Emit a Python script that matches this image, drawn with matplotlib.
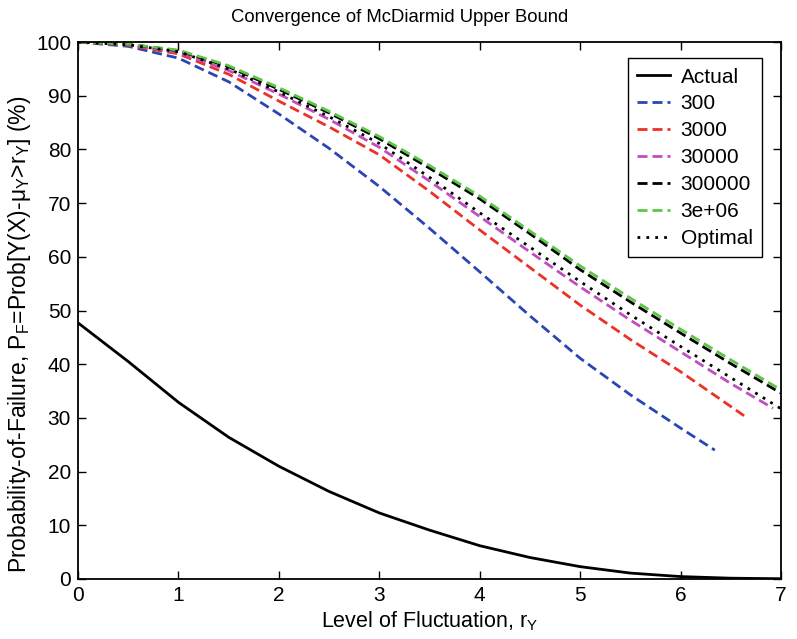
import matplotlib
matplotlib.use("Agg")
import matplotlib.pyplot as plt

plt.rcParams["font.family"] = ["Liberation Sans", "DejaVu Sans"]
plt.rcParams["mathtext.default"] = "regular"

# Level of fluctuation r_Y
x_full = [0, 0.5, 1, 1.5, 2, 2.5, 3, 3.5, 4, 4.5, 5, 5.5, 6, 6.5, 7]

actual = [47.7, 40.5, 32.9, 26.4, 21.0, 16.3, 12.3, 9.1, 6.2, 4.0, 2.3, 1.1, 0.45, 0.15, 0.05]

x_300 = [0, 0.5, 1, 1.5, 2, 2.5, 3, 3.5, 4, 4.5, 5, 5.5, 6, 6.34]
b_300 = [100, 99.2, 97.0, 92.6, 86.6, 80.2, 73.1, 65.3, 57.2, 49.0, 41.1, 34.3, 28.1, 24.0]

x_3000 = [0, 0.5, 1, 1.5, 2, 2.5, 3, 3.5, 4, 4.5, 5, 5.5, 6, 6.64]
b_3000 = [100, 99.4, 97.8, 94.0, 89.0, 84.2, 79.0, 72.2, 65.0, 58.0, 51.0, 44.6, 38.6, 30.3]

x_30000 = [0, 0.5, 1, 1.5, 2, 2.5, 3, 3.5, 4, 4.5, 5, 5.5, 6, 6.5, 6.92]
b_30000 = [100, 99.5, 98.1, 94.7, 90.3, 85.6, 80.4, 74.1, 67.5, 60.9, 54.4, 48.2, 42.3, 36.4, 31.8]

b_300000 = [100, 99.6, 98.4, 95.4, 91.2, 86.8, 82.0, 76.5, 70.8, 64.3, 57.6, 51.6, 45.8, 40.1, 34.6]
b_3e6 = [100, 99.6, 98.5, 95.6, 91.5, 87.1, 82.4, 77.0, 71.3, 64.8, 58.3, 52.3, 46.5, 40.8, 35.2]
optimal = [100, 99.5, 98.2, 95.0, 90.7, 86.1, 81.1, 74.8, 68.2, 61.8, 55.4, 49.2, 43.3, 37.5, 31.7]

fig = plt.figure(figsize=(7.97, 6.39), dpi=100)
ax = fig.add_axes([0.0979, 0.0939, 0.8821, 0.8403])

lw = 2.0
dash = (3.6, 1.8)
ax.plot(x_full, actual, color="black", lw=lw, label="Actual")
ax.plot(x_300, b_300, color="#2a46b4", lw=lw, dashes=dash, label="300")
ax.plot(x_3000, b_3000, color="#ec3226", lw=lw, dashes=dash, label="3000")
ax.plot(x_30000, b_30000, color="#c04ec2", lw=lw, dashes=dash, label="30000")
ax.plot(x_full, b_300000, color="black", lw=lw, dashes=dash, label="300000")
ax.plot(x_full, b_3e6, color="#5cc646", lw=lw, dashes=dash, label="3e+06")
ax.plot(x_full, optimal, color="black", lw=lw, dashes=(1, 2.2), label="Optimal")

ax.set_xlim(0, 7)
ax.set_ylim(0, 100)
ax.set_xticks(range(0, 8))
ax.set_yticks(range(0, 101, 10))
ax.tick_params(direction="in", length=6, width=1, top=True, right=True,
               labelsize=15, pad=5)
for s in ax.spines.values():
    s.set_linewidth(1.3)

fig.text(0.502, 0.972, "Convergence of McDiarmid Upper Bound", fontsize=13.3,
         ha="center", va="center")
ax.set_xlabel("Level of Fluctuation, r$_Y$", fontsize=15.5, labelpad=3)
ax.set_ylabel("Probability-of-Failure, P$_F$=Prob[Y(X)-μ$_Y$>r$_Y$] (%)",
              fontsize=16.5, labelpad=3)
ax.yaxis.set_label_coords(-0.064, 0.455)

leg = ax.legend(loc="upper right", bbox_to_anchor=(0.973, 0.970), fontsize=15,
                frameon=True, fancybox=False, handlelength=1.6,
                handletextpad=0.5, labelspacing=0.38, borderpad=0.45,
                borderaxespad=0)
leg.get_frame().set_edgecolor("black")
leg.get_frame().set_linewidth(1.0)
leg.get_frame().set_alpha(1)

fig.savefig("out.png", dpi=100)
